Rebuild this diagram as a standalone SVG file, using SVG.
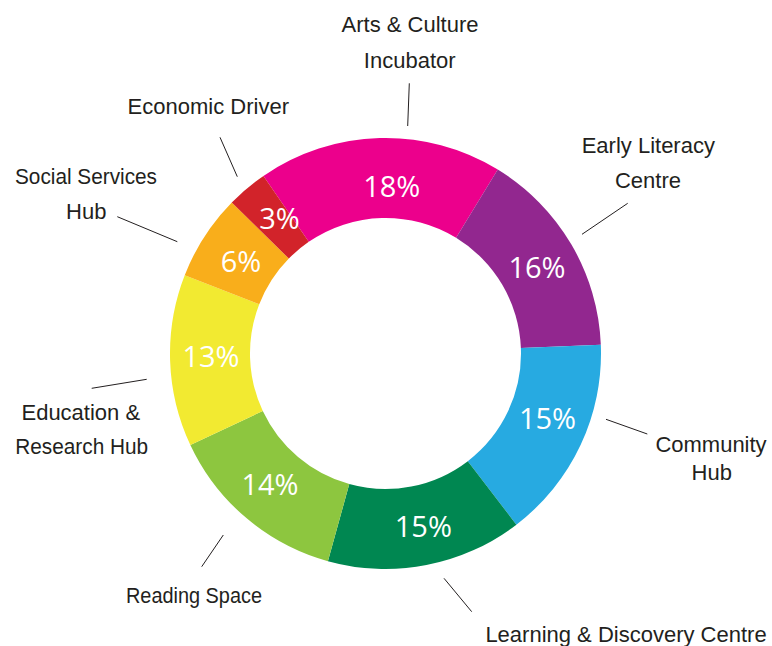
<svg xmlns="http://www.w3.org/2000/svg" width="772" height="646" viewBox="0 0 772 646">
<style>
.seg{stroke:none}
.pct{font-family:"Open Sans","Noto Sans",sans-serif;font-size:29px;fill:#ffffff;text-anchor:middle}
.lbl{font-family:"Liberation Sans",Arial,sans-serif;font-size:22px;fill:#231F20;text-anchor:middle}
.lead{stroke:#231F20;stroke-width:1;fill:none}
</style>
<rect width="772" height="646" fill="#ffffff"/>
<g id="connectors">
<line class="lead" x1="409.3" y1="83.3" x2="407.7" y2="126"/>
<line class="lead" x1="220" y1="137.3" x2="237.3" y2="176.7"/>
<line class="lead" x1="582" y1="234.3" x2="627.7" y2="203.3"/>
<line class="lead" x1="117.3" y1="216.7" x2="177.3" y2="241.7"/>
<line class="lead" x1="606" y1="419.3" x2="647.3" y2="434"/>
<line class="lead" x1="444" y1="578.3" x2="471.7" y2="611.7"/>
<line class="lead" x1="223.3" y1="535" x2="201.7" y2="566.7"/>
<line class="lead" x1="91.7" y1="388.3" x2="146.7" y2="379.3"/>
</g>
<g id="arts">
<path class="seg" fill="#EC008C" d="M263.44,175.91 A215.5,215.5 0 0 1 497.77,169.55 L456.10,237.84 A135.5,135.5 0 0 0 308.75,241.83 Z"/>
<text class="pct" x="391.7" y="196.7">18%</text>
<text class="lbl" x="410" y="32.3">Arts &amp; Culture</text>
<text class="lbl" x="409.7" y="67.7">Incubator</text>
</g>
<g id="early">
<path class="seg" fill="#92278F" d="M497.77,169.55 A215.5,215.5 0 0 1 600.83,344.85 L520.89,348.06 A135.5,135.5 0 0 0 456.10,237.84 Z"/>
<text class="pct" x="537" y="278.3">16%</text>
<text class="lbl" x="648.3" y="153.3">Early Literacy</text>
<text class="lbl" x="648" y="188.3">Centre</text>
</g>
<g id="community">
<path class="seg" fill="#27AAE1" d="M600.83,344.85 A215.5,215.5 0 0 1 516.39,524.69 L467.80,461.14 A135.5,135.5 0 0 0 520.89,348.06 Z"/>
<text class="pct" x="547.5" y="429">15%</text>
<text class="lbl" x="711" y="451.7">Community</text>
<text class="lbl" x="711.7" y="480">Hub</text>
</g>
<g id="learning">
<path class="seg" fill="#008751" d="M516.39,524.69 A215.5,215.5 0 0 1 327.92,561.16 L349.29,484.07 A135.5,135.5 0 0 0 467.80,461.14 Z"/>
<text class="pct" x="423.3" y="536.7">15%</text>
<text class="lbl" x="626" y="641.7">Learning &amp; Discovery Centre</text>
</g>
<g id="reading">
<path class="seg" fill="#8DC63F" d="M327.92,561.16 A215.5,215.5 0 0 1 190.34,444.92 L262.79,410.98 A135.5,135.5 0 0 0 349.29,484.07 Z"/>
<text class="pct" x="270" y="495">14%</text>
<text class="lbl" x="194" y="603.3" textLength="136" lengthAdjust="spacingAndGlyphs">Reading Space</text>
</g>
<g id="education">
<path class="seg" fill="#F2EA31" d="M190.34,444.92 A215.5,215.5 0 0 1 184.72,275.21 L259.25,304.27 A135.5,135.5 0 0 0 262.79,410.98 Z"/>
<text class="pct" x="211" y="367.3">13%</text>
<text class="lbl" x="80.8" y="420">Education &amp;</text>
<text class="lbl" x="81.7" y="454.3" textLength="133" lengthAdjust="spacingAndGlyphs">Research Hub</text>
</g>
<g id="social">
<path class="seg" fill="#F9AE1B" d="M184.72,275.21 A215.5,215.5 0 0 1 231.78,202.46 L288.85,258.53 A135.5,135.5 0 0 0 259.25,304.27 Z"/>
<text class="pct" x="241" y="271.7">6%</text>
<text class="lbl" x="86" y="184.3" textLength="142" lengthAdjust="spacingAndGlyphs">Social Services</text>
<text class="lbl" x="86.3" y="219.3">Hub</text>
</g>
<g id="economic">
<path class="seg" fill="#D2232A" d="M231.78,202.46 A215.5,215.5 0 0 1 263.44,175.91 L308.75,241.83 A135.5,135.5 0 0 0 288.85,258.53 Z"/>
<text class="pct" x="279.5" y="229">3%</text>
<text class="lbl" x="208.3" y="114.3">Economic Driver</text>
</g>
</svg>
